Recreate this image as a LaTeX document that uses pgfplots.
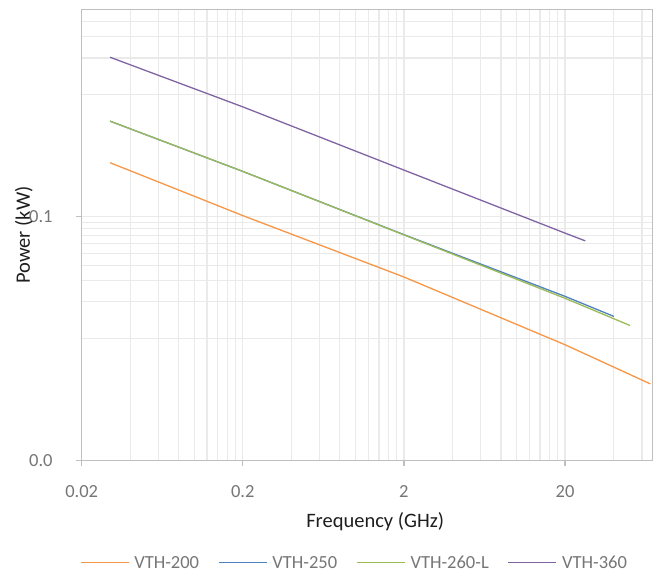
\documentclass[border=0pt]{standalone}
\usepackage{pgfplots}
\pgfplotsset{compat=1.18}
\usepackage{fontspec}
\setmainfont{Carlito}
\definecolor{axgray}{RGB}{191,191,191}
\definecolor{grd}{RGB}{234,234,234}
\definecolor{tkgray}{RGB}{118,118,118}
\definecolor{ttl}{RGB}{30,30,30}
\definecolor{corange}{HTML}{F79646}
\definecolor{cblue}{HTML}{4F81BD}
\definecolor{cgreen}{HTML}{9BBB59}
\definecolor{cpurple}{HTML}{8064A2}
\begin{document}
\begin{tikzpicture}
\begin{axis}[
  name=ax,
  scale only axis, width=571bp, height=451bp,
  xmode=log, ymode=log,
  xmin=0.02, xmax=70, ymin=0.001, ymax=5,
  xtick={0.02,0.2,2,20}, xticklabels={0.02,0.2,2,20},
  ytick={0.001,0.1}, yticklabels={0.0,0.1},
  minor xtick={0.04,0.06,0.08,0.1,0.12,0.14,0.16,0.18,0.4,0.6,0.8,1,1.2,1.4,1.6,1.8,4,6,8,10,12,14,16,18,40,60},
  minor ytick={0.01,0.02,0.03,0.04,0.05,0.06,0.07,0.08,0.09,1,2,3,4},
  grid=both,
  major grid style={draw=grd, line width=1.2bp},
  minor grid style={draw=grd, line width=1.2bp},
  axis line style={draw=axgray, line width=1.3bp},
  tick align=outside, tick pos=left,
  major tick length=5.5bp, minor tick length=0pt,
  tick style={draw=axgray, line width=1.3bp},
  tick label style={font=\fontsize{18.5bp}{22bp}\selectfont, text=tkgray},
  xticklabel style={anchor=center, inner sep=0pt, yshift=-25.3bp},
  yticklabel style={anchor=east, inner sep=0pt, xshift=-23.4bp},
  label style={font=\fontsize{20.5bp}{24bp}\selectfont, text=ttl},
  xlabel={Frequency (GHz)},
  ylabel={Power (kW)},
  xlabel style={at={(axis description cs:0.5,0)}, anchor=base, yshift=-67bp, xshift=8bp},
  ylabel style={at={(axis description cs:0,0.5)}, anchor=base, yshift=51.7bp},
  legend columns=4,
  legend style={draw=none, fill=none, inner sep=0pt, outer sep=0pt,
    at={(-0.003,-0.2262)}, anchor=west,
    font=\fontsize{18.5bp}{22bp}\selectfont, text=tkgray,
    nodes={inner xsep=0pt, inner ysep=2bp, text depth=0pt},
    /tikz/every odd column/.append style={column sep=5bp},
    /tikz/every even column/.append style={column sep=19bp}},
  legend image code/.code={\draw[#1, line width=1.3bp] (0bp,0bp) -- (48bp,0bp);},
]
\addplot[corange, line width=1.3bp] coordinates {(0.03,0.277) (0.2,0.102) (2,0.0320) (20,0.0089) (67.7,0.00425)};
\addlegendentry{VTH-200}
\addplot[cblue, line width=1.3bp] coordinates {(0.03,0.607) (0.2,0.235) (2,0.0712) (20,0.0222) (40.2,0.0152)};
\addlegendentry{VTH-250}
\addplot[cgreen, line width=1.3bp] coordinates {(0.03,0.607) (0.2,0.235) (2,0.0708) (20,0.0214) (50.6,0.0128)};
\addlegendentry{VTH-260-L}
\addplot[cpurple, line width=1.3bp] coordinates {(0.03,2.03) (0.2,0.795) (2,0.241) (20,0.0733) (26.7,0.0633)};
\addlegendentry{VTH-360}
\end{axis}
\pgfresetboundingbox
\path[use as bounding box] ([xshift=-81.7bp,yshift=-113.5bp]ax.south west) rectangle ([xshift=3.3bp,yshift=9.5bp]ax.north east);
\end{tikzpicture}
\end{document}
